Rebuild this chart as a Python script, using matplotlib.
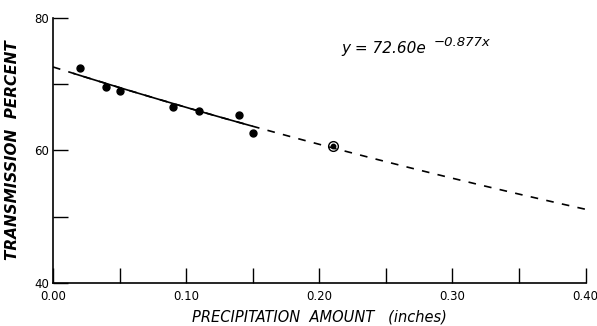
import numpy as np
import matplotlib
matplotlib.use("Agg")
import matplotlib.pyplot as plt
from matplotlib.ticker import FixedLocator, NullFormatter

# Data
precip = [0.02, 0.04, 0.05, 0.09, 0.11, 0.14, 0.15]
transmission = [72.4, 69.6, 69.0, 66.6, 66.0, 65.3, 62.6]
circled_x = [0.21]
circled_y = [60.6]
fit_a = 72.60
fit_b = -0.877
x_major = [0.0, 0.1, 0.2, 0.3, 0.4]
x_major_labels = ["0.00", "0.10", "0.20", "0.30", "0.40"]
x_minor = [0.05, 0.15, 0.25, 0.35]
y_major = [40, 60, 80]
y_minor = [50, 70]

plt.rcParams['font.family'] = ['DejaVu Sans']
plt.rcParams['lines.scale_dashes'] = False
fig = plt.figure(figsize=(5.97, 3.26), dpi=100)
ax = fig.add_axes([0.0888, 0.132, 0.892, 0.813])

xf = np.linspace(0, 0.4, 200)
yf = fit_a * np.exp(fit_b * xf)
ax.plot(xf, yf, color='black', lw=1.2, dashes=(5.5, 6))
xs = np.linspace(0.015, 0.15, 100)
ax.plot(xs, fit_a * np.exp(fit_b * xs), color='black', lw=1.2, solid_capstyle='butt')

ax.plot(precip, transmission, 'o', color='black', ms=5)
ax.plot(circled_x, circled_y, 'o', color='black', ms=3.2)
ax.plot(circled_x, circled_y, 'o', mfc='none', mec='black', mew=1.0, ms=7)

ax.set_xlim(0, 0.4)
ax.set_ylim(40, 80)
for s in ['top', 'right']:
    ax.spines[s].set_visible(False)
for s in ['left', 'bottom']:
    ax.spines[s].set_linewidth(1.2)

ax.xaxis.set_major_locator(FixedLocator(x_major))
ax.set_xticklabels(x_major_labels)
ax.xaxis.set_minor_locator(FixedLocator(x_minor))
ax.yaxis.set_major_locator(FixedLocator(y_major))
ax.yaxis.set_minor_locator(FixedLocator(y_minor))
ax.yaxis.set_minor_formatter(NullFormatter())
ax.tick_params(which='both', direction='in', length=11, width=1.0, labelsize=8.5, pad=3)
ax.tick_params(axis='x', which='major', pad=5)

ax.set_xlabel("PRECIPITATION  AMOUNT   (inches)", fontsize=10.5, style='italic', labelpad=5)
ax.set_ylabel("TRANSMISSION  PERCENT", fontsize=11, style='italic', fontweight='bold', labelpad=10)

fig.text(341 / 597, 1 - 53 / 326, "y = 72.60e", fontsize=11, style='italic', va='baseline')
fig.text(434 / 597, 1 - 46 / 326, "\u22120.877x", fontsize=9.5, style='italic', va='baseline')

fig.savefig("out.png", dpi=100)
